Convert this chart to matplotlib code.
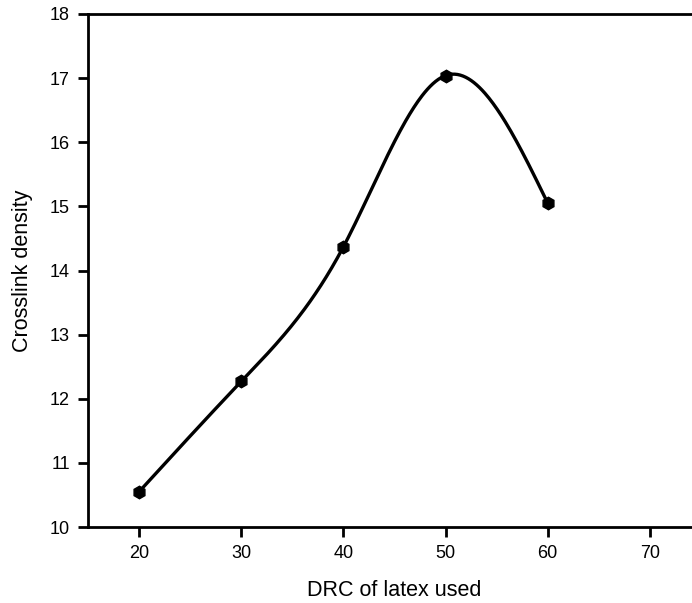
import numpy as np
import matplotlib
matplotlib.use("Agg")
from matplotlib import pyplot as plt

drc = [20, 30, 40, 50, 60]
crosslink = [10.55, 12.27, 14.37, 17.04, 15.05]
x_ticks = [20, 30, 40, 50, 60, 70]
y_ticks = [10, 11, 12, 13, 14, 15, 16, 17, 18]


def natural_spline(x, y, num=300):
    # plain natural cubic spline, no scipy needed
    x = np.asarray(x, float)
    y = np.asarray(y, float)
    n = len(x)
    h = np.diff(x)
    A = np.zeros((n, n))
    b = np.zeros(n)
    A[0, 0] = 1
    A[-1, -1] = 1
    for i in range(1, n - 1):
        A[i, i - 1] = h[i - 1]
        A[i, i] = 2 * (h[i - 1] + h[i])
        A[i, i + 1] = h[i]
        b[i] = 3 * ((y[i + 1] - y[i]) / h[i] - (y[i] - y[i - 1]) / h[i - 1])
    c = np.linalg.solve(A, b)
    xs = np.linspace(x[0], x[-1], num)
    ys = np.empty_like(xs)
    for k, xv in enumerate(xs):
        i = min(np.searchsorted(x, xv, side='right') - 1, n - 2)
        dx = xv - x[i]
        bi = (y[i + 1] - y[i]) / h[i] - h[i] * (2 * c[i] + c[i + 1]) / 3
        di = (c[i + 1] - c[i]) / (3 * h[i])
        ys[k] = y[i] + bi * dx + c[i] * dx ** 2 + di * dx ** 3
    return xs, ys


plt.rcParams['font.family'] = ['Liberation Sans', 'DejaVu Sans']

fig = plt.figure(figsize=(6.92, 6.03), dpi=100)
W, H = 692, 603
left, right, top, bottom = 88, 701, 14, 527
ax = fig.add_axes([left / W, 1 - bottom / H, (right - left) / W, (bottom - top) / H])

xs, ys = natural_spline(drc, crosslink)
ax.plot(xs, ys, color='black', linewidth=2.4)
ax.plot(drc, crosslink, 'h', color='black', markersize=9)

ax.set_xlim(15, 75)
ax.set_ylim(10, 18)
ax.set_xticks(x_ticks)
ax.set_yticks(y_ticks)
ax.tick_params(direction='out', length=7, width=2, labelsize=13, pad=6)
for s in ax.spines.values():
    s.set_linewidth(2)
ax.spines['right'].set_visible(False)

ax.set_xlabel('DRC of latex used', fontsize=15.5, labelpad=13)
ax.set_ylabel('Crosslink density', fontsize=15.5, labelpad=12)

fig.savefig('out.png', dpi=100)
